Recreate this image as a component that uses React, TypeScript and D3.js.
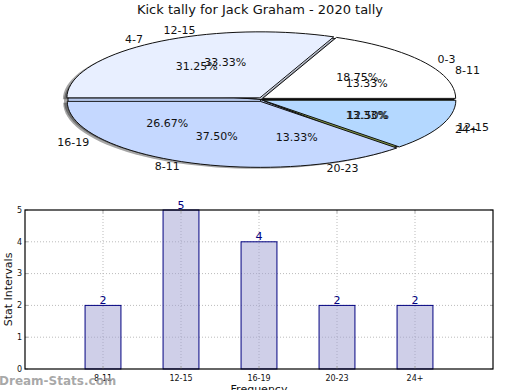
import * as d3 from 'd3'

const W = 520
const H = 390
const FONT = 'DejaVu Sans, sans-serif'

// outer pie (drawn first)
const pieALabels = ['8-11', '12-15', '16-19', '20-23', '24+']
const pieAValues = [2, 5, 4, 2, 2]
const pieAColors = ['#ffffff', '#e8efff', '#c5d8ff', '#c5d8ff', '#c8ec6c']

// second pie (drawn on top)
const pieBLabels = ['0-3', '4-7', '8-11', '12-15']
const pieBValues = [3, 5, 6, 2]
const pieBColors = ['#ffffff', '#e8efff', '#c5d8ff', '#b4d8ff']

// bar chart
const barCats = ['8-11', '12-15', '16-19', '20-23', '24+']
const barValues = [2, 5, 4, 2, 2]
const yTicks = [0, 1, 2, 3, 4, 5]

const cx = 261
const cy = 99.5
const rx = 193
const ry = 66

// matplotlib-style angles: start at 3 o'clock, counter-clockwise
function slices(values: number[]) {
  const total = d3.sum(values)
  const acc = d3.cumsum(values)
  return values.map((v, i) => {
    const a0 = ((acc[i] - v) / total) * 2 * Math.PI
    const a1 = (acc[i] / total) * 2 * Math.PI
    return { v, a0, a1, mid: (a0 + a1) / 2, pct: (v / total) * 100 }
  })
}

function wedgePath(a0: number, a1: number, dx = 0, dy = 0) {
  const p = d3.path()
  const ox = cx + dx
  const oy = cy + dy
  p.moveTo(ox, oy)
  const n = Math.max(2, Math.ceil(((a1 - a0) / (2 * Math.PI)) * 120))
  d3.range(n + 1).forEach(k => {
    const a = a0 + ((a1 - a0) * k) / n
    p.lineTo(ox + rx * Math.cos(a), oy - ry * Math.sin(a))
  })
  p.closePath()
  return p.toString()
}

function Pie({ values, colors, explode }: { values: number[]; colors: string[]; explode: number }) {
  const sl = slices(values)
  return (
    <g>
      {sl.map((s, i) => (
        <path key={'s' + i} d={wedgePath(s.a0, s.a1, -4 + explode * Math.cos(s.mid), 1.5 - explode * Math.sin(s.mid))}
          fill="rgba(0,0,0,0.35)" />
      ))}
      {sl.map((s, i) => (
        <path key={'w' + i} d={wedgePath(s.a0, s.a1, explode * Math.cos(s.mid), -explode * Math.sin(s.mid))}
          fill={colors[i]} stroke="#111" strokeWidth={1} strokeLinejoin="round" />
      ))}
    </g>
  )
}

function PieText({ labels, values }: { labels: string[]; values: number[] }) {
  const sl = slices(values)
  return (
    <g fontFamily={FONT} fontSize={11} fill="#111">
      {sl.map((s, i) => {
        const lx = cx + 1.1 * rx * Math.cos(s.mid)
        const ly = cy - 1.1 * ry * Math.sin(s.mid)
        const px = cx + 0.6 * rx * Math.cos(s.mid)
        const py = cy - 0.6 * ry * Math.sin(s.mid)
        return (
          <g key={i}>
            <text x={lx} y={ly} dy="0.35em" textAnchor={Math.cos(s.mid) > 0 ? 'start' : 'end'}>{labels[i]}</text>
            <text x={px} y={py} dy="0.35em" textAnchor="middle">{s.pct.toFixed(2) + '%'}</text>
          </g>
        )
      })}
    </g>
  )
}

function BarChart() {
  const left = 25
  const right = 493
  const top = 210
  const bottom = 369
  const x = d3.scaleLinear().domain([0, barCats.length + 1]).range([left, right])
  const y = d3.scaleLinear().domain([0, 5]).range([bottom, top])
  const bw = x(0.46) - x(0)
  return (
    <g fontFamily={FONT}>
      {yTicks.slice(1, -1).map(t => (
        <line key={'gy' + t} x1={left} x2={right} y1={y(t)} y2={y(t)} stroke="#bbb" strokeWidth={1} strokeDasharray="1,2" />
      ))}
      {barCats.map((c, i) => (
        <line key={'gx' + c} x1={x(i + 1)} x2={x(i + 1)} y1={top} y2={bottom} stroke="#bbb" strokeWidth={1} strokeDasharray="1,2" />
      ))}
      {barValues.map((v, i) => (
        <g key={'b' + i}>
          <rect x={x(i + 1) - bw / 2} y={y(v)} width={bw} height={y(0) - y(v)} fill="rgba(160,160,210,0.5)" stroke="#000080" strokeWidth={1} />
          <text x={x(i + 1)} y={y(v) - 1.5} textAnchor="middle" fontSize={11} fill="#000080">{v}</text>
        </g>
      ))}
      {yTicks.map(t => (
        <g key={'yt' + t}>
          <line x1={left} x2={left + 3} y1={y(t)} y2={y(t)} stroke="#aaa" />
          <line x1={right - 3} x2={right} y1={y(t)} y2={y(t)} stroke="#aaa" />
          <text x={left - 3} y={y(t)} dy="0.35em" textAnchor="end" fontSize={8} fill="#111">{t}</text>
        </g>
      ))}
      {barCats.map((c, i) => (
        <g key={'xt' + c}>
          <line x1={x(i + 1)} x2={x(i + 1)} y1={bottom} y2={bottom - 3} stroke="#aaa" />
          <line x1={x(i + 1)} x2={x(i + 1)} y1={top} y2={top + 3} stroke="#aaa" />
          <text x={x(i + 1)} y={bottom + 12} textAnchor="middle" fontSize={8} fill="#111">{c}</text>
        </g>
      ))}
      <rect x={left} y={top} width={right - left} height={bottom - top} fill="none" stroke="#000" strokeWidth={1.2} />
      <text x={(left + right) / 2} y={bottom + 24} textAnchor="middle" fontSize={11} fill="#111">Frequency</text>
      <text transform={`translate(12,${(top + bottom) / 2}) rotate(-90)`} textAnchor="middle" fontSize={11} fill="#111">Stat Intervals</text>
    </g>
  )
}

export default function App() {
  return (
    <svg width={W} height={H} style={{ position: 'absolute', left: 0, top: 0, background: '#fff' }}>
      <rect width={W} height={H} fill="#fff" />
      <text x={260} y={14} textAnchor="middle" fontFamily={FONT} fontSize={13} fill="#111">
        Kick tally for Jack Graham - 2020 tally
      </text>
      <Pie values={pieAValues} colors={pieAColors} explode={0} />
      <Pie values={pieBValues} colors={pieBColors} explode={2} />
      <PieText labels={pieALabels} values={pieAValues} />
      <PieText labels={pieBLabels} values={pieBValues} />
      <BarChart />
      <text x={-1} y={385} fontFamily={FONT} fontSize={12} fontWeight="bold" fill="#999" fillOpacity={0.85}>Dream-Stats.com</text>
    </svg>
  )
}
